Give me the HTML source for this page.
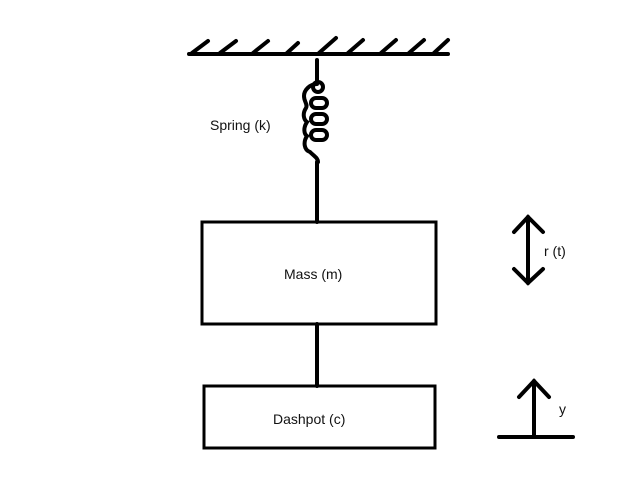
<!DOCTYPE html>
<html><head><style>
body{margin:0;background:#fff;}
svg{display:block;}
text{font-family:"Liberation Sans",sans-serif;font-size:14px;fill:#111;}
</style></head><body>
<svg width="640" height="480" viewBox="0 0 640 480">
<g stroke="#000" stroke-width="4" fill="none" stroke-linecap="round">
<line x1="189" y1="54" x2="448" y2="54"/>
<line x1="192" y1="53" x2="208" y2="41"/>
<line x1="220" y1="53" x2="236" y2="41"/>
<line x1="253" y1="53" x2="268" y2="41"/>
<line x1="287" y1="53" x2="298" y2="43"/>
<line x1="319" y1="53" x2="336" y2="38"/>
<line x1="348" y1="53" x2="363" y2="40"/>
<line x1="381" y1="53" x2="396" y2="40"/>
<line x1="409" y1="53" x2="424" y2="40"/>
<line x1="434" y1="53" x2="448" y2="40"/>
<line x1="317" y1="60" x2="317" y2="83"/>
<path d="M317 84 C310 84,304 90,304 96 C304 102,308 104,306 108 C302 114,304 120,307 122 C303 128,304 134,307 136 C303 142,304 150,310 152 C314 156,318 158,318 162"/>
<rect x="313" y="82" width="10" height="10" rx="5"/>
<rect x="311" y="98" width="16" height="10" rx="5"/>
<rect x="311" y="114" width="16" height="10" rx="5"/>
<rect x="311" y="130" width="16" height="10" rx="5"/>
<line x1="317" y1="162" x2="317" y2="222"/>
<rect x="202" y="222" width="234" height="102" stroke-width="3"/>
<line x1="317" y1="324" x2="317" y2="386"/>
<rect x="204" y="386" width="231" height="62" stroke-width="3"/>
<line x1="528" y1="217" x2="528" y2="283"/>
<polyline points="514,232 528,217 543,232"/>
<polyline points="514,269 528,283 543,269"/>
<line x1="534" y1="381" x2="534" y2="437"/>
<polyline points="519,397 534,381 549,397"/>
<line x1="499" y1="437" x2="573" y2="437"/>
</g>
<text x="210" y="130">Spring (k)</text>
<text x="284" y="279">Mass (m)</text>
<text x="273" y="424">Dashpot (c)</text>
<text x="544" y="256">r (t)</text>
<text x="559" y="414">y</text>
</svg>
</body></html>
